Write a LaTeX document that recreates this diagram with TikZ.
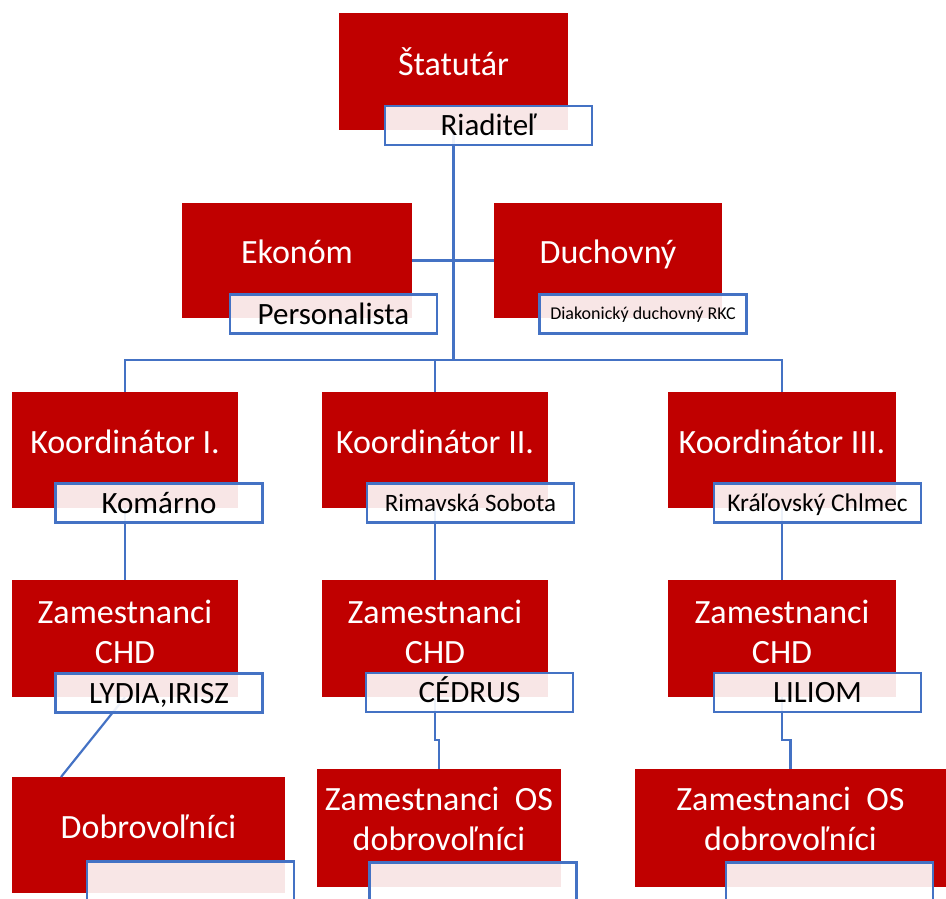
\documentclass[tikz,border=0pt]{standalone}
\usepackage{fontspec}
\setmainfont{Carlito}
\definecolor{bred}{HTML}{C00000}
\definecolor{bblue}{HTML}{4472C4}
\begin{document}
\begin{tikzpicture}[x=1pt,y=-1pt,
  redbox/.style={fill=bred, draw=none, inner sep=0pt, minimum width=#1, minimum height=117pt},
  redtxt/.style={text=white, font=\fontsize{34}{40}\selectfont, align=center, inner sep=0pt},
  capc/.style={text height=#1, text depth=0pt},
  lbl/.style={draw=bblue, line width=2.2pt, fill=white, fill opacity=0.9, text opacity=1,
    text=black, minimum width=207pt, minimum height=39pt, inner sep=0pt,
    font=\fontsize{31}{36}\selectfont, capc=20pt},
  conn/.style={draw=bblue, line width=2.2pt}]
\useasboundingbox (0,0) rectangle (946,898);
\clip (0,0) rectangle (946,898);
% red boxes
\node[redbox=229pt] (stat) at (453.5,71.5) {};
\node[redbox=230pt, minimum height=115pt] (ekon) at (297,260.5) {};
\node[redbox=228pt, minimum height=115pt] (duch) at (608,260.5) {};
\node[redbox=226pt, minimum height=116pt] (k1) at (125,450) {};
\node[redbox=226pt, minimum height=116pt] (k2) at (435,450) {};
\node[redbox=228pt, minimum height=116pt] (k3) at (782,450) {};
\node[redbox=226pt] (z1) at (125,638.5) {};
\node[redbox=226pt] (z2) at (435,638.5) {};
\node[redbox=228pt] (z3) at (782,638.5) {};
\node[redbox=273pt, minimum height=116pt] (dob) at (148.5,835) {};
\node[redbox=244pt, minimum height=118pt] (os2) at (439,828) {};
\node[redbox=311pt, minimum height=118pt] (os3) at (790.5,828) {};
% connectors
\coordinate (busY) at (0,360);
\coordinate (dobTop) at (61,777);
\draw[conn] (stat.south) -- (stat.south |- busY);
\draw[conn] (k1.north) -- (k1.north |- busY) -- (k3.north |- busY) -- (k3.north);
\draw[conn] (k2.north) -- (k2.north |- busY);
\draw[conn] (ekon.east) -- (duch.west);
\draw[conn] (k1.south) -- (z1.north);
\draw[conn] (k2.south) -- (z2.north);
\draw[conn] (k3.south) -- (z3.north);
\draw[conn] (z1.south) -- (dobTop);
\draw[conn] (z2.south) -- ++(0,43) -| (os2.north);
\draw[conn] (z3.south) -- ++(0,43) -| (os3.north);
% labels
\node[lbl] (statl) at (488.5,125.5) {Riaditeľ};
\node[lbl] (ekonl) at (333.5,314) {Personalista};
\node[lbl, font=\fontsize{18}{22}\selectfont, capc=11.6pt] (duchl) at (643,314) {Diakonický duchovný RKC};
\node[lbl] (k1l) at (159,503) {Komárno};
\node[lbl, font=\fontsize{25}{30}\selectfont, capc=16.1pt] (k2l) at (470.5,503) {Rimavská Sobota};
\node[lbl, font=\fontsize{25.5}{30}\selectfont, capc=16.4pt] (k3l) at (817.5,503) {Kráľovský Chlmec};
\node[lbl] (z1l) at (159,693) {LYDIA,IRISZ};
\node[lbl] (z2l) at (469.5,692.5) {CÉDRUS};
\node[lbl] (z3l) at (817.5,692.5) {LILIOM};
\node[lbl] (dobl) at (190.5,881) {};
\node[lbl] (os2l) at (473,882) {};
\node[lbl] (os3l) at (829.5,882) {};
% red texts
\node[redtxt, capc=22pt] (statt) at ([yshift=7pt]stat.center) {Štatutár};
\node[redtxt, capc=22pt] (ekont) at ([yshift=8pt]ekon.center) {Ekonóm};
\node[redtxt, capc=22pt] (ducht) at ([yshift=8pt]duch.center) {Duchovný};
\node[redtxt, capc=22pt] (k1t) at ([yshift=8pt]k1.center) {Koordinátor I.};
\node[redtxt, capc=22pt] (k2t) at ([yshift=8pt]k2.center) {Koordinátor II.};
\node[redtxt, capc=22pt] (k3t) at ([yshift=8pt]k3.center) {Koordinátor III.};
\node[redtxt] (z1t) at ([yshift=7pt]z1.center) {Zamestnanci\\CHD};
\node[redtxt] (z2t) at ([yshift=7pt]z2.center) {Zamestnanci\\CHD};
\node[redtxt] (z3t) at ([yshift=7pt]z3.center) {Zamestnanci\\CHD};
\node[redtxt, capc=22pt] (dobt) at ([yshift=8pt]dob.center) {Dobrovoľníci};
\node[redtxt] (os2t) at ([yshift=9pt]os2.center) {Zamestnanci\ \ OS\\dobrovoľníci};
\node[redtxt] (os3t) at ([yshift=9pt]os3.center) {Zamestnanci\ \ OS\\dobrovoľníci};
\end{tikzpicture}
\end{document}
